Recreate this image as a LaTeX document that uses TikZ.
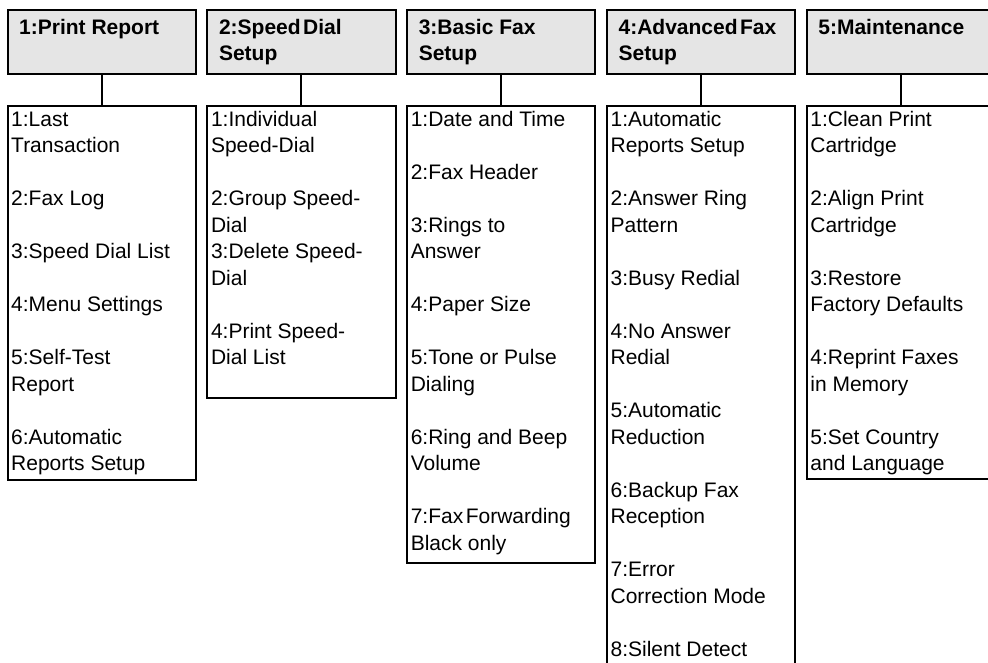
\documentclass[tikz,border=0pt]{standalone}
\usepackage{fontspec}
\setmainfont{Liberation Sans}
\definecolor{hdrgray}{RGB}{229,229,229}
\tikzset{
  hdr/.style={draw=black, fill=hdrgray, line width=2pt, minimum width=188.3pt, minimum height=64pt, inner sep=0pt, outer sep=0pt, anchor=north west},
  bodybox/.style={draw=black, line width=2pt, minimum width=188.3pt, inner sep=0pt, outer sep=0pt, anchor=north west},
  txt/.style={anchor=base west, inner sep=0pt, font=\fontsize{21}{25}\selectfont},
  htxt/.style={anchor=base west, inner sep=0pt, font=\fontsize{21}{25}\selectfont\bfseries},
  conn/.style={line width=2pt}
}
\newcommand{\nsp}{\kern.12em}
\begin{document}
\begin{tikzpicture}[x=1pt,y=-1pt]
\useasboundingbox (0,0) rectangle (988,662);
\clip (0,0) rectangle (988,662);
% headers
\node[hdr] (h1) at (7.5,10) {};
\node[hdr] (h2) at (207.3,10) {};
\node[hdr] (h3) at (407.1,10) {};
\node[hdr] (h4) at (606.9,10) {};
\node[hdr] (h5) at (806.7,10) {};
% bodies
\node[bodybox, minimum height=374pt] (b1) at (7.5,106) {};
\node[bodybox, minimum height=292pt] (b2) at (207.3,106) {};
\node[bodybox, minimum height=457pt] (b3) at (407.1,106) {};
\node[bodybox, minimum height=600pt] (b4) at (606.9,106) {};
\node[bodybox, minimum height=373pt] (b5) at (806.7,106) {};
% connectors
\foreach \i in {1,...,5} \draw[conn] (h\i.south) -- (b\i.north);
% header texts
\node[htxt] (ht1) at (19,34.5) {1:Print Report};
\node[htxt] (ht2a) at (218.8,34.5) {2:Speed\nsp Dial};
\node[htxt] (ht2b) at (218.8,60) {Setup};
\node[htxt] (ht3a) at (418.6,34.5) {3:Basic Fax};
\node[htxt] (ht3b) at (418.6,60) {Setup};
\node[htxt] (ht4a) at (618.4,34.5) {4:Advanced\nsp Fax};
\node[htxt] (ht4b) at (618.4,60) {Setup};
\node[htxt] (ht5) at (818.2,34.5) {5:Maintenance};
% body texts
\foreach \t/\k [count=\n] in {1:Last/0, Transaction/1, 2:Fax Log/3, 3:Speed Dial List/5, 4:Menu Settings/7, 5:Self-Test/9, Report/10, 6:Automatic/12, Reports Setup/13}
  \node[txt] (ta\n) at (11,126+26.5*\k) {\t};
\foreach \t/\k [count=\n] in {1:Individual/0, Speed-Dial/1, 2:Group Speed-/3, Dial/4, 3:Delete Speed-/5, Dial/6, 4:Print Speed-/8, Dial List/9}
  \node[txt] (tb\n) at (210.8,126+26.5*\k) {\t};
\foreach \t/\k [count=\n] in {1:Date and Time/0, 2:Fax Header/2, 3:Rings to/4, Answer/5, 4:Paper Size/7, 5:Tone or Pulse/9, Dialing/10, 6:Ring and Beep/12, Volume/13, {7:Fax\nsp Forwarding}/15, Black only/16}
  \node[txt] (tc\n) at (410.6,126+26.5*\k) {\t};
\foreach \t/\k [count=\n] in {1:Automatic/0, Reports Setup/1, 2:Answer Ring/3, Pattern/4, 3:Busy Redial/6, 4:No Answer/8, Redial/9, 5:Automatic/11, Reduction/12, 6:Backup Fax/14, Reception/15, 7:Error/17, Correction Mode/18, 8:Silent Detect/20}
  \node[txt] (td\n) at (610.4,126+26.5*\k) {\t};
\foreach \t/\k [count=\n] in {1:Clean Print/0, Cartridge/1, 2:Align Print/3, Cartridge/4, 3:Restore/6, Factory Defaults/7, 4:Reprint Faxes/9, in Memory/10, 5:Set Country/12, and Language/13}
  \node[txt] (te\n) at (810.2,126+26.5*\k) {\t};
\end{tikzpicture}
\end{document}
